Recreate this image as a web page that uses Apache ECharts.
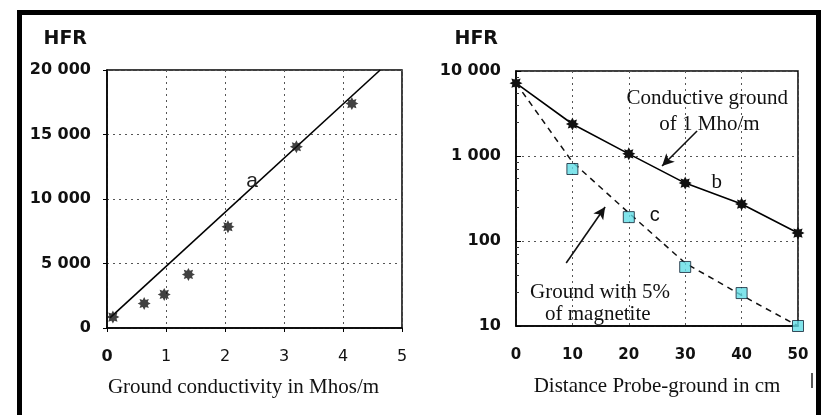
<!DOCTYPE html>
<html><head><meta charset="utf-8">
<script src="https://cdn.jsdelivr.net/npm/echarts@6/dist/echarts.min.js"></script>
<style>
html,body{margin:0;padding:0;background:#fff;}
#wrap{position:relative;width:823px;height:415px;overflow:hidden;background:#fff;}
#c{width:823px;height:415px;}
#frame{position:absolute;left:17px;top:10px;width:794px;height:420px;border-left:5px solid #000;border-top:5px solid #000;border-right:5px solid #000;pointer-events:none;}
</style></head>
<body><div id="wrap"><div id="c"></div><div id="frame"></div></div>
<script>
// ---- Left chart: HFR vs ground conductivity ----
const condX   = [0.1, 0.63, 0.97, 1.38, 2.05, 3.21, 4.15];
const condHFR = [850, 1900, 2600, 4150, 7850, 14050, 17400];
const fitX    = [0.05, 4.63];
const fitHFR  = [780, 20000];
const leftXTicks = [0, 1, 2, 3, 4, 5];
const leftYTicks = [0, 5000, 10000, 15000, 20000];

// ---- Right chart: HFR vs probe distance (log) ----
const distX  = [0, 10, 20, 30, 40, 50];
const hfrB   = [7200, 2380, 1060, 480, 272, 124];      // conductive ground 1 Mho/m
const sqX    = [10, 20, 30, 40, 50];
const hfrC   = [703, 191, 49.5, 24.4, 10];             // ground with 5% magnetite
const trendC = [7200, 850, 214, 55, 23, 10];           // dashed trend for c
const rightXTicks = [0, 10, 20, 30, 40, 50];
const rightYTicks = [10, 100, 1000, 10000];

// annotations (data coordinates)
const noteA = {x: 2.46, y: 11360, text: 'a'};
const notesRight = [
  {x: 33.9, y: 4800, text: 'Conductive ground', font: 'serif'},
  {x: 34.3, y: 2320, text: 'of 1 Mho/m', font: 'serif'},
  {x: 35.6, y: 494, text: 'b', font: 'serif'},
  {x: 24.6, y: 197, text: 'c', font: 'sans'},
  {x: 14.9, y: 25, text: 'Ground with 5%', font: 'serif'},
  {x: 14.5, y: 13.5, text: 'of magnetite', font: 'serif'}
];
const arrowsRight = [
  {from: [32.1, 1970], to: [25.9, 762]},
  {from: [8.9, 55], to: [15.8, 251]}
];

const star = 'path://M0,-10 L2.3,-5.54 L7.07,-7.07 L5.54,-2.3 L10,0 L5.54,2.3 L7.07,7.07 L2.3,5.54 L0,10 L-2.3,5.54 L-7.07,7.07 L-5.54,2.3 L-10,0 L-5.54,-2.3 L-7.07,-7.07 L-2.3,-5.54 Z';
const SANS = '"DejaVu Sans", Verdana, sans-serif';
const SERIF = '"Liberation Serif", "Times New Roman", serif';
const fmtThousands = v => String(v).replace(/\B(?=(\d{3})+(?!\d))/g, ' ');
const zip = (a, b) => a.map((v, i) => [v, b[i]]);

const gridLine = {show: true, lineStyle: {type: [2, 4], color: '#555', width: 1}};
const axisLineBlack = {show: true, lineStyle: {color: '#000', width: 1.5}};

const chart = echarts.init(document.getElementById('c'), null, {renderer: 'canvas'});
chart.setOption({
  animation: false,
  backgroundColor: 'transparent',
  grid: [
    {left: 107, top: 70, width: 295, height: 258, show: true, borderColor: '#000', borderWidth: 1.5, backgroundColor: 'transparent'},
    {left: 516, top: 71, width: 282, height: 255, show: true, borderColor: '#000', borderWidth: 1.5, backgroundColor: 'transparent'}
  ],
  xAxis: [
    {gridIndex: 0, type: 'value', min: leftXTicks[0], max: leftXTicks[leftXTicks.length - 1], interval: 1,
     axisLine: axisLineBlack, axisTick: {show: true, length: 4, lineStyle: {color: '#000'}},
     splitLine: gridLine,
     axisLabel: {margin: 21, fontFamily: SANS, fontSize: 16, color: '#111',
       formatter: v => v === 0 ? '{b|0}' : String(v), rich: {b: {fontWeight: 'bold', fontSize: 16, fontFamily: SANS, color: '#111'}}},
     name: 'Ground conductivity in Mhos/m', nameLocation: 'middle', nameGap: 49,
     nameTextStyle: {fontFamily: SERIF, fontSize: 21, color: '#111', padding: [0, 22, 0, 0]}},
    {gridIndex: 1, type: 'value', min: rightXTicks[0], max: rightXTicks[rightXTicks.length - 1], interval: 10,
     axisLine: axisLineBlack, axisTick: {show: false},
     splitLine: gridLine,
     axisLabel: {margin: 22, fontFamily: SANS, fontSize: 15, fontWeight: 'bold', color: '#111'},
     name: 'Distance Probe-ground in cm', nameLocation: 'middle', nameGap: 50,
     nameTextStyle: {fontFamily: SERIF, fontSize: 21, color: '#111'}}
  ],
  yAxis: [
    {gridIndex: 0, type: 'value', min: leftYTicks[0], max: leftYTicks[leftYTicks.length - 1], interval: 5000,
     axisLine: axisLineBlack, axisTick: {show: true, length: 4, lineStyle: {color: '#000'}},
     splitLine: gridLine,
     axisLabel: {margin: 16, fontFamily: SANS, fontSize: 16, fontWeight: 'bold', color: '#111', formatter: fmtThousands},
     name: 'HFR', nameLocation: 'end', nameGap: 21,
     nameTextStyle: {fontFamily: SANS, fontSize: 19, fontWeight: 'bold', color: '#111', align: 'right', padding: [0, 20, 0, 0]}},
    {gridIndex: 1, type: 'log', logBase: 10, min: rightYTicks[0], max: rightYTicks[rightYTicks.length - 1],
     axisLine: axisLineBlack, axisTick: {show: true, inside: true, length: 5, lineStyle: {color: '#000'}},
     minorTick: {show: true, splitNumber: 6, length: 3, lineStyle: {color: '#333'}},
     splitLine: gridLine,
     axisLabel: {margin: 15, fontFamily: SANS, fontSize: 16, fontWeight: 'bold', color: '#111', formatter: fmtThousands},
     name: 'HFR', nameLocation: 'end', nameGap: 22,
     nameTextStyle: {fontFamily: SANS, fontSize: 19, fontWeight: 'bold', color: '#111', align: 'right', padding: [0, 18, 0, 0]}}
  ],
  series: [
    {type: 'line', xAxisIndex: 0, yAxisIndex: 0, data: zip(fitX, fitHFR), showSymbol: false, silent: true,
     lineStyle: {color: '#000', width: 1.6}, z: 3,
     markPoint: {silent: true, symbol: 'circle', symbolSize: 0,
       label: {show: true, position: 'inside', formatter: p => p.name, fontFamily: '"Liberation Sans", Arial, sans-serif', fontSize: 21, color: '#222'},
       data: [{name: noteA.text, coord: [noteA.x, noteA.y]}]}},
    {type: 'scatter', xAxisIndex: 0, yAxisIndex: 0, data: zip(condX, condHFR), symbol: star, symbolSize: 13,
     itemStyle: {color: '#111'}, z: 4, silent: true},
    {type: 'line', xAxisIndex: 1, yAxisIndex: 1, data: zip(distX, trendC), showSymbol: false, silent: true,
     lineStyle: {color: '#111', width: 1.5, type: [6, 5]}, z: 3},
    {type: 'line', xAxisIndex: 1, yAxisIndex: 1, data: zip(distX, hfrB), symbol: star, symbolSize: 13, silent: true,
     itemStyle: {color: '#111'}, lineStyle: {color: '#000', width: 1.6}, z: 4,
     markLine: {silent: true, symbol: ['none', 'arrow'], symbolSize: [9, 12],
       label: {show: false}, lineStyle: {color: '#111', width: 1.6, type: 'solid'},
       data: arrowsRight.map(a => [{coord: a.from}, {coord: a.to}])},
     markPoint: {silent: true, symbol: 'circle', symbolSize: 0,
       label: {show: true, position: 'inside', formatter: p => p.name, color: '#111'},
       data: notesRight.map(n => ({name: n.text, coord: [n.x, n.y],
         label: {fontFamily: n.font === 'serif' ? SERIF : '"Liberation Sans", Arial, sans-serif', fontSize: n.font === 'serif' ? 21 : 20}}))}},
    {type: 'scatter', xAxisIndex: 1, yAxisIndex: 1, data: zip(sqX, hfrC), symbol: 'rect', symbolSize: 11,
     itemStyle: {color: '#62dde6', borderColor: '#123', borderWidth: 1}, z: 5, silent: true}
  ],
  graphic: [
    {type: 'line', shape: {x1: 812, y1: 373, x2: 812, y2: 388}, style: {stroke: '#222', lineWidth: 1.5}}
  ]
});
</script></body></html>
